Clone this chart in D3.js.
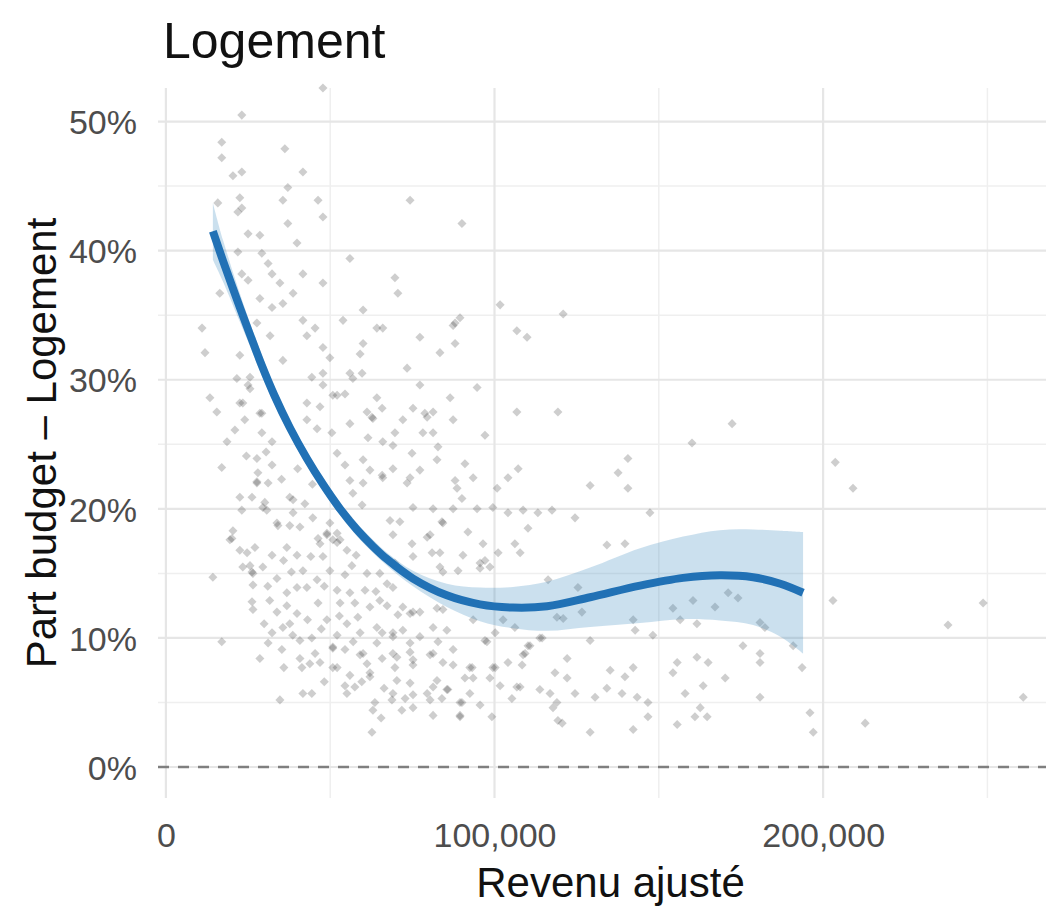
<!DOCTYPE html>
<html><head><meta charset="utf-8">
<script src="https://cdn.jsdelivr.net/npm/d3@7"></script>
<style>
body{margin:0;background:#fff}
svg{display:block}
text{font-family:"Liberation Sans",Arial,Helvetica,sans-serif}
</style>
</head><body>
<svg id="chart" width="1046" height="906"></svg>
<script>
// ---------- data ----------
const chartTitle = "Logement";
const xTitle = "Revenu ajusté";
const yTitle = "Part budget – Logement";
const xTickValues = [0, 100000, 200000];
const xMinorValues = [50000, 150000, 250000];
const yTickValues = [0, 0.1, 0.2, 0.3, 0.4, 0.5];
const yMinorValues = [0.05, 0.15, 0.25, 0.35, 0.45];
const refLineValue = 0;

// scatter: [revenu ajusté (milliers), part budget (%)]
const scatterPoints = [
[23.1,50.5],[47.8,52.6],[17,48.4],[17,47.2],[36.2,47.9],[20.4,45.8],[23.1,46.1],[41.7,46.1],[37.1,44.9],[15.8,43.7],[22.5,44.1],[23.1,43.3],[35.6,43.9],[46.3,43.9],[47.8,42.6],[74.3,43.9],[21.9,43],[37.1,42.1],[25,41.3],[28.6,41.2],[39.9,40.6],[21.9,39.9],[29.2,39.8],[31.1,39],[56,39.4],[23.1,38.2],[25,37.7],[32.3,38.2],[34.7,37.5],[41.7,38.2],[47.8,37.5],[69.7,37.9],[70.6,36.7],[16.4,36.7],[28.6,36.3],[32.3,35.6],[35.6,35.9],[38.7,36.7],[60,35.4],[11,34],[27.7,34.4],[41.7,34.6],[45.4,34],[53.9,34.6],[64.2,34],[66,34],[11.9,32.1],[31.7,33.4],[42.9,33.4],[47.8,32.5],[49.9,31.7],[59.1,32],[22.5,31.9],[35.6,31.5],[60,32.8],[77.3,33.3],[83.4,32.1],[87.4,34.2],[88,32.8],[73.4,30.9],[13.4,28.6],[21.6,30.1],[25.6,30.2],[25.6,29.3],[44.4,30.2],[47.8,30.5],[50.8,28.8],[54.5,28.9],[56,30.5],[59.7,30.5],[77.3,29.6],[15.5,27.5],[22.5,28.2],[28.6,27.4],[42.9,28.2],[46.9,27.9],[63,27],[65.8,27.8],[75.2,27.8],[78.8,27.4],[81.3,27.5],[87.4,26.9],
[90.1,42.1],[101.7,35.8],[120.9,35.1],[88,34.4],[89.5,34.8],[106.8,33.8],[109.9,33.3],[94.7,29.4],[86.5,28.6],[106.8,27.5],[119.3,27.5],[172.3,26.6],
[97.1,25.7],[160.1,25.1],[91,23.5],[107.2,23.1],[140.6,23.9],[137.6,22.8],[140.6,21.6],[129.1,21.8],[88,22.2],[93.5,22.4],[104.1,22.4],[100.8,21.6],[90.1,20.8],[87.4,20],[94.7,20],[99.5,20.1],[104.1,19.7],[108.7,19.9],[113.2,19.7],[117.5,19.9],[124.5,19.3],[147.3,19.7],[84.3,18.9],[91.9,18.2],[110.2,18.5],[106.2,17.3],[134.2,17.2],[139.7,17.3],[90.4,16.4],[97.1,16],[101.1,16.6],[107.8,16.6],[84.3,15.1],[88.9,15.2],[95.6,15.4],[98.6,15.5],[116.3,14.5],[125.4,13.9],[171.1,13.5],[174.1,13.1],[160.4,12.9],[154.3,12.3],[167.1,12.4],[84.3,12.2],[102.6,11.4],[119,11.6],[120.9,11.5],[126.6,12],[106.2,10.8],[93.5,11.4],[142.2,11.4],[156.5,11.4],[161.6,11.1],[142.8,10.6],[148.2,10.2],[129.1,9.8],[113.8,10],[97.1,9.8],[110.2,9.4],[122.1,8.4],[155.6,8.1],[161.6,8.5],[165,8.1],[109.3,8.8],[108.4,7.9],[104.1,8.1],[99.5,7.7],[93.2,7.7],[87.4,7.9],[118.4,7.3],[122.1,6.9],[135.2,7.5],[139.7,7],[142.2,7.7],[154.3,7.3],[163.5,6.3],[170.2,6.9],[93.5,6.9],[98.6,6.9],[101.7,6.3],[107.8,6.2],[85.5,6],[92.5,5.7],[113.8,6],[116.9,5.7],[124.5,5.7],[130.6,5.4],[134.2,6.1],[138.8,5.7],[143.4,5.4],[146.7,5],[158,5.7],[105.3,5.3],[89.5,5],[95.6,4.8],[119,5],[117.8,4.6],[119.3,3.6],[89.5,3.9],[99.2,3.9],[129.1,2.7],[142.2,2.9],[146.7,3.9],[155.6,3.3],[161,3.9],[162.6,4.6],[164.7,3.9],
[203.7,23.6],[209.1,21.6],[203,12.9],[248.7,12.7],[238,11],[180.8,11.2],[182.3,10.8],[175.6,9.4],[180.8,8.8],[180.8,8.1],[190.9,9.4],[193.6,7.7],[180.8,5.4],[196,4.2],[197,2.7],[212.8,3.4],[260.9,5.4],
[25,29.6],[23.4,28.2],[29.2,27.4],[21,26.1],[24,26.9],[29.2,25.9],[18.6,25.2],[32.3,25.2],[17,23.2],[27.7,23.9],[32.3,23.4],[28,22.8],[31.1,22],[27.7,22],[22.5,20.9],[26.2,20.9],[30.1,20.5],[37.7,20.9],[42.3,20.4],[23.1,19.9],[30.7,19.9],[38.7,19.7],[44.7,19.3],[34.1,18.7],[37.7,18.7],[40.8,18.6],[20.4,18.3],[49.9,18.9],[19.5,17.6],[22.5,16.8],[27.1,17],[32.3,16.4],[36.8,17],[39.9,16.4],[46.3,17.7],[49,18],[52.1,17.4],[47.8,16.3],[55.1,16.8],[25.6,15.6],
[47.8,29.6],[52.1,28.8],[56.9,30.1],[64.2,28.6],[61.2,27.5],[42.9,26.9],[46,26.2],[50.5,25.9],[56,26.6],[62.7,27.1],[61.5,25.5],[66,25.2],[52.1,24.3],[54.5,23.4],[60,23.8],[62.1,23],[65.8,22.6],[56,22.2],[56.9,21.2],[59.7,20.3],[55.4,19.3],[52.1,18.1],
[14.3,14.7],[23.4,15.5],[26.2,15.1],[29.5,15.5],[26.5,14.1],[26.2,12.8],[26.5,12.2],[33.8,14.6],[36.8,13.5],[42.9,13.9],[41.7,15.2],[46,14.5],[49.9,15.2],[54.5,14.9],[52.1,13.7],[56,13.5],[60.6,13.7],[33.8,12],[39.9,11.9],[36.8,12.5],[46.3,12.7],[49,11.4],[53,12.7],[57.5,12.7],[62.1,12.4],[37.7,11.1],[35.6,10.8],[32.3,10.4],[17,9.7],[31.1,9.6],[35.3,9.1],[40.8,9.8],[44.4,10],[40.8,8.4],[45.4,8.8],[41.4,7.7],[43.8,8],[28.6,8.4],[52.1,10.2],[55.1,11.1],[59.1,10.4],[64.2,9.6],[50.8,9.2],[54.5,9.1],[59.1,8.7],[61.2,8],[52.1,7.7],[56,7.1],[62.1,7],[57.5,6.2],[44.4,5.7],[55.1,5.7],[34.7,5.2],[63.6,5],[62.7,2.7],[65.8,8.4],[64.2,10.8],[56.6,15.6],[61.2,15],
[69.7,25.9],[78.2,25.9],[69.1,24.9],[74.9,24.3],[82.8,24.8],[69.1,23.1],[77.3,23],[66,22.4],[73.4,22],[88.6,21.6],[75.2,20.1],[81.3,20],[68.2,19.1],[84,19],[69.1,18],[80.4,18],[74.9,17.3],[96.5,17.3],[81,16.6],[83.4,15.5],[75.2,16.3],[69.7,15.8],[67.3,14.2],[95.6,15.8],[67.3,12.5],[72.1,12.4],[75.2,12],
[70.6,11.8],[77.3,12],[82.5,12.3],[65.8,10.4],[69.1,10.1],[72.1,10.6],[77.3,10.1],[81.3,10.8],[82.8,9.7],[87.4,9.1],[97.7,9.7],[100.2,10.4],[114.5,10],[110.8,9.4],[108.7,8.7],[69.1,8.8],[74.3,8.9],[80.4,8.7],[75.2,7.9],[69.7,7.7],[84.3,8.1],[92.5,7.7],[100.2,7.7],[70.3,6.7],[82.5,6.7],[91,6.9],[106.8,6.2],[85.8,6],[68.8,5.2],[72.8,5.3],[75.2,5.6],[80.4,5.2],[84,5.3],[90.1,5],[71.8,4.4],[75.2,4.6],[81.3,4],[120.6,3.4],[89.5,4],
[27.7,22.1],[29.5,20.1],[20.1,17.7],[24.7,16.6],[26.5,15],[41.7,5.7],[39.9,13.9],[46.9,17.3],[50.8,17.6],[53,17.6],[49,18.1],[38.7,20.7],[33.8,18.9],
[60,22],[72.1,26.9],[79.5,27.1],[81.3,25.9],[82.5,23.8],[74.3,22.4],[71.2,19],[79.5,17.8],[83.4,16.6],[65.1,15],[69.1,13.9],[74.3,11.9],[65.1,12.9],[69.1,10.4],[60,8.8],[62.1,7.3],[70.3,8.5],[74.3,9.6],[75.2,8.3],[81.3,8.8],[85.5,10.6],[74.3,6.5],[79.5,5.7],[81.3,6.2],[63,4.4],[69.1,5.7],[54.5,6.3],[50.8,7.7],[50.8,9.3],
[24.5,24.1],[30.5,24.4],[35.2,22.3],[40.1,23.1],[44.6,21.9],[35.8,16.0],[31.0,14.0],[38.2,15.1],[44.1,16.3],[48.2,14.0],[57.9,16.4],[31.6,12.9],[43.1,11.4],[47.3,10.7],[57.0,9.7],[29.9,11.1],[38.6,10.2],[46.9,8.1],[52.8,11.7],[58.4,11.6],[63.9,13.6],[35.9,7.7],[48.2,6.6],[59.6,6.6],[66.4,6.1],[65.5,3.8]
];

// lissage (loess) et intervalle de confiance : revenu en milliers, parts en %
const smoothRevenue = [14.3,17.4,22.5,25.6,29.2,33,37.7,42.9,47.8,53,58.1,63,67.3,75.2,85.5,95.6,105.6,116,129.1,144.3,157.4,168.6,178.7,187,193.9];
const smoothFit     = [41.5,39.2,35.6,33.5,31.1,28.8,26.3,23.9,21.9,20.0,18.4,17.1,16.1,14.6,13.3,12.6,12.35,12.45,13.15,14.05,14.65,14.85,14.7,14.2,13.5];
const smoothUpper   = [43.7,40.8,36.7,34.4,31.9,29.5,26.9,24.45,22.4,20.5,18.9,17.6,16.6,15.2,14.2,13.9,13.95,14.35,15.45,16.95,17.85,18.35,18.4,18.3,18.2];
const smoothLower   = [39.3,37.6,34.5,32.6,30.3,28.1,25.7,23.35,21.4,19.5,17.9,16.6,15.6,14.0,12.4,11.3,10.75,10.55,10.85,11.15,11.45,11.35,11.0,10.1,8.8];

// ---------- layout ----------
const panel = {left:158, right:1063, top:88, bottom:798};
const svg = d3.select("#chart");

const x = d3.scaleLinear().domain([-2400, 273000]).range([panel.left, panel.right]);
const y = d3.scaleLinear().domain([-0.024, 0.526]).range([panel.bottom, panel.top]);

// grid
const grid = svg.append("g");
grid.selectAll(".hmin").data(yMinorValues).join("line")
  .attr("x1", panel.left).attr("x2", panel.right)
  .attr("y1", d => y(d)).attr("y2", d => y(d))
  .attr("stroke", "#efefef").attr("stroke-width", 1.5);
grid.selectAll(".vmin").data(xMinorValues).join("line")
  .attr("y1", panel.top).attr("y2", panel.bottom)
  .attr("x1", d => x(d)).attr("x2", d => x(d))
  .attr("stroke", "#efefef").attr("stroke-width", 1.5);
grid.selectAll(".hmaj").data(yTickValues).join("line")
  .attr("x1", panel.left).attr("x2", panel.right)
  .attr("y1", d => y(d)).attr("y2", d => y(d))
  .attr("stroke", "#e6e6e6").attr("stroke-width", 2.2);
grid.selectAll(".vmaj").data(xTickValues).join("line")
  .attr("y1", panel.top).attr("y2", panel.bottom)
  .attr("x1", d => x(d)).attr("x2", d => x(d))
  .attr("stroke", "#e6e6e6").attr("stroke-width", 2.2);

// points
const sym = d3.symbol().type(d3.symbolDiamond2).size(52);
svg.append("g").selectAll("path").data(scatterPoints).join("path")
  .attr("transform", d => `translate(${x(d[0]*1000)},${y(d[1]/100)})`)
  .attr("d", sym)
  .attr("fill", "#333333").attr("fill-opacity", 0.24);

// ribbon + smooth line
const smoothData = smoothRevenue.map((r, i) => ({r: r*1000, f: smoothFit[i]/100, lo: smoothLower[i]/100, hi: smoothUpper[i]/100}));
svg.append("path").datum(smoothData)
  .attr("d", d3.area().curve(d3.curveCatmullRom).x(d => x(d.r)).y0(d => y(d.lo)).y1(d => y(d.hi)))
  .attr("fill", "#3182bd").attr("fill-opacity", 0.25);
svg.append("path").datum(smoothData)
  .attr("d", d3.line().curve(d3.curveCatmullRom).x(d => x(d.r)).y(d => y(d.f)))
  .attr("fill", "none").attr("stroke", "#2171b5").attr("stroke-width", 8);

// reference dashed line at 0
svg.append("line")
  .attr("x1", panel.left).attr("x2", panel.right)
  .attr("y1", y(refLineValue)).attr("y2", y(refLineValue))
  .attr("stroke", "#7f7f7f").attr("stroke-width", 2.5).attr("stroke-dasharray", "11,9");

// axes (text only, like theme_minimal)
const xAxis = d3.axisBottom(x).tickValues(xTickValues).tickFormat(d3.format(",")).tickSize(0).tickPadding(0);
const gx = svg.append("g").attr("transform", `translate(0,${panel.bottom})`).call(xAxis);
gx.select(".domain").remove();
gx.selectAll("text").attr("font-size", 34).attr("fill", "#4d4d4d")
  .attr("font-family", '"Liberation Sans",Arial,sans-serif').attr("dy", null).attr("y", 49);

const yAxis = d3.axisLeft(y).tickValues(yTickValues).tickFormat(d3.format(".0%")).tickSize(0).tickPadding(0);
const gy = svg.append("g").attr("transform", `translate(${panel.left},0)`).call(yAxis);
gy.select(".domain").remove();
gy.selectAll("text").attr("font-size", 34).attr("fill", "#4d4d4d")
  .attr("font-family", '"Liberation Sans",Arial,sans-serif').attr("x", -21).attr("dy", "0.36em");

// titles
svg.append("text").attr("x", 163).attr("y", 58).attr("font-size", 50).attr("fill", "#111").text(chartTitle);
svg.append("text").attr("x", (panel.left + panel.right) / 2).attr("y", 897)
  .attr("text-anchor", "middle").attr("font-size", 42).attr("fill", "#111").text(xTitle);
svg.append("text").attr("transform", `translate(56,${(panel.top + panel.bottom) / 2}) rotate(-90)`)
  .attr("text-anchor", "middle").attr("font-size", 42).attr("fill", "#111").text(yTitle);
</script>
</body></html>
